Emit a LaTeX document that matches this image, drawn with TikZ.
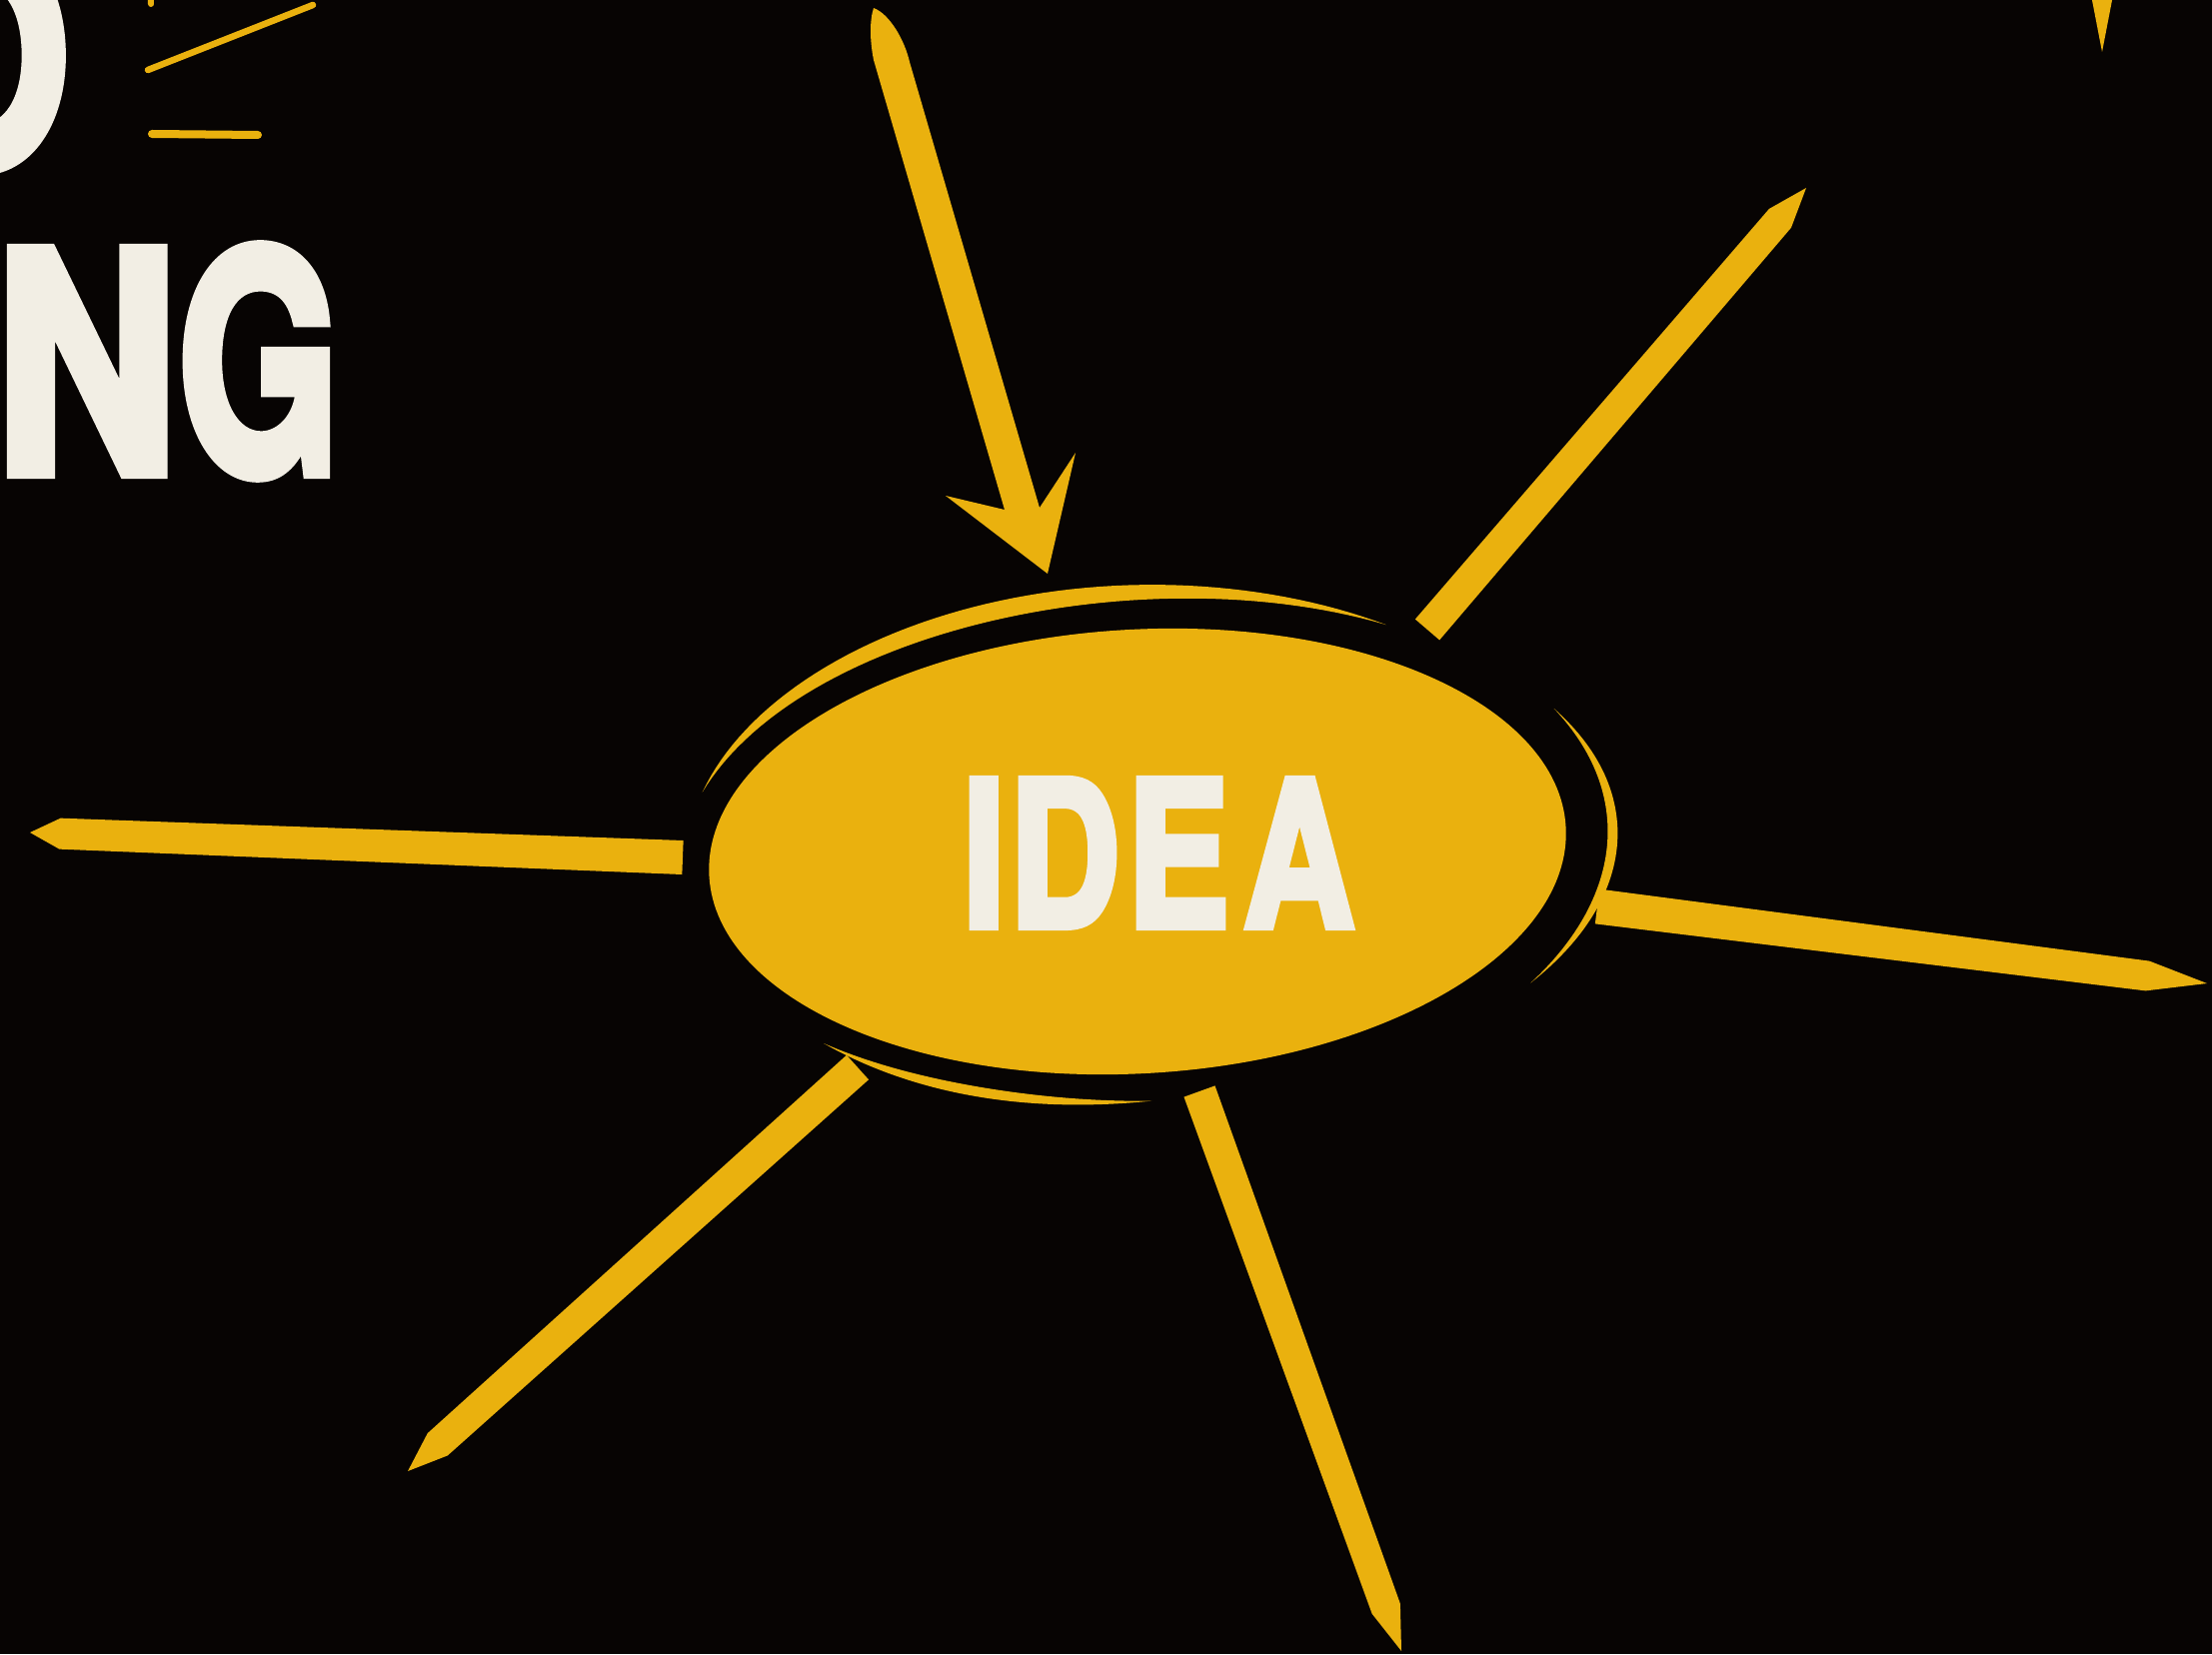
\documentclass[tikz,border=0pt]{standalone}
\usepackage{fontspec}
\setmainfont{TeX Gyre Heros}
\newfontfamily\heavyfont{TeX Gyre Heros}[BoldFeatures={FakeBold=4}]
\usetikzlibrary{calc,shapes.geometric}
\definecolor{bg}{RGB}{7,4,3}
\definecolor{yel}{RGB}{234,177,14}
\definecolor{cream}{RGB}{242,238,228}
\tikzset{
  rayfill/.style={fill=yel},
  bigtxt/.style={inner sep=0pt, text=cream},
  thinline/.style={draw=yel, line cap=round},
}
% tapered "pencil" ray: inner, outer, half width at inner end, half width where the point starts, point length
\newcommand{\pencilray}[5]{%
  \coordinate (tp) at ($(#2)!#5!(#1)$);
  \fill[rayfill] ($(#1)!#3!90:(#2)$) -- ($(tp)!#4!-90:(#1)$) -- (#2) -- ($(tp)!#4!90:(#1)$) -- ($(#1)!#3!-90:(#2)$) -- cycle;
}
% tapered elliptic arc (local coords): a, b, t1, t2, half thickness
\newcommand{\taperarc}[5]{%
  \fill[rayfill] plot[domain=#3:#4, samples=60, variable=\t]
    ({(#1+#5*sin(180/((#4)-(#3))*(\t-(#3))))*cos(\t)}, {-(#2+#5*sin(180/((#4)-(#3))*(\t-(#3))))*sin(\t)})
    -- plot[domain=#4:#3, samples=60, variable=\t]
    ({(#1-#5*sin(180/((#4)-(#3))*(\t-(#3))))*cos(\t)}, {-(#2-#5*sin(180/((#4)-(#3))*(\t-(#3))))*sin(\t)})
    -- cycle;
}
\begin{document}
\begin{tikzpicture}[x=0.01cm, y=-0.01cm]
\useasboundingbox (0,0) rectangle (2213,1655);
\fill[bg] (0,0) rectangle (2213,1655);
\clip (0,0) rectangle (2213,1655);

% big heading letters (cut by the edge)
\node[bigtxt, anchor=base west, font=\fontsize{87}{90}\heavyfont\bfseries] (ng) at (-6,473) {\scalebox{0.83}[1]{N}\scalebox{0.68}[1]{G}};
\node[bigtxt, anchor=base west, font=\fontsize{87}{90}\heavyfont\bfseries] (oletter) at (-112,166) {\scalebox{0.76}[1]{O}};

% small strokes near the heading
\coordinate (d1a) at (148,70);  \coordinate (d1b) at (313,5);
\coordinate (d2a) at (152,134); \coordinate (d2b) at (258,135);
\coordinate (d3a) at (151,4);   \coordinate (d3b) at (149,-30);
\draw[thinline, line width=0.065cm] (d1a) -- (d1b);
\draw[thinline, line width=0.08cm] (d2a) -- (d2b);
\draw[thinline, line width=0.06cm] (d3a) -- (d3b);

% spike in the top right corner
\coordinate (sp) at (2103,52);
\fill[rayfill] (2092,-5) -- (2114,-5) -- (sp) -- cycle;

% central ellipse
\node[ellipse, fill=yel, minimum width=8.58cm, minimum height=4.44cm, inner sep=0pt, rotate=3.3] (idea) at (1138,852) {};
\node[bigtxt, anchor=base, font=\fontsize{57.4}{60}\heavyfont\bfseries] (idealabel) at (1159,927) {\scalebox{0.76}[1]{I\kern1.6pt D\kern2.6pt E\kern5.3pt A}};

% arcs around the ellipse
\begin{scope}[shift={(1138,852)}, rotate=3.3]
  \taperarc{456}{259}{55}{161}{9}
  \taperarc{476}{262}{-36}{27}{5}
  \taperarc{451}{250}{-136}{-90}{5}
\end{scope}

% rays
\coordinate (lin) at (683,858);   \coordinate (lout) at (30,833);
\coordinate (llin) at (858,1068); \coordinate (llout) at (408,1472);
\coordinate (bin) at (1200,1092); \coordinate (bout) at (1402,1652);
\coordinate (rin) at (1598,907);  \coordinate (rout) at (2208,984);
\coordinate (urin) at (1428,630); \coordinate (urout) at (1807,188);
\pencilray{lin}{lout}{0.17cm}{0.155cm}{0.3cm}
\pencilray{llin}{llout}{0.165cm}{0.15cm}{0.4cm}
\pencilray{bin}{bout}{0.165cm}{0.15cm}{0.45cm}
\pencilray{rin}{rout}{0.175cm}{0.15cm}{0.6cm}
\pencilray{urin}{urout}{0.16cm}{0.145cm}{0.4cm}

% arrow pointing at the idea
\coordinate (atail) at (874,8);
\coordinate (atip) at (1048,574);
\fill[rayfill] (atail) .. controls (890,14) and (905,40) .. (910,62) -- (1040,508)
  -- (1076,453) -- (atip) -- (946,496) -- (1005,510) -- (874,60) .. controls (870,40) and (870,20) .. (atail) -- cycle;
\end{tikzpicture}
\end{document}
